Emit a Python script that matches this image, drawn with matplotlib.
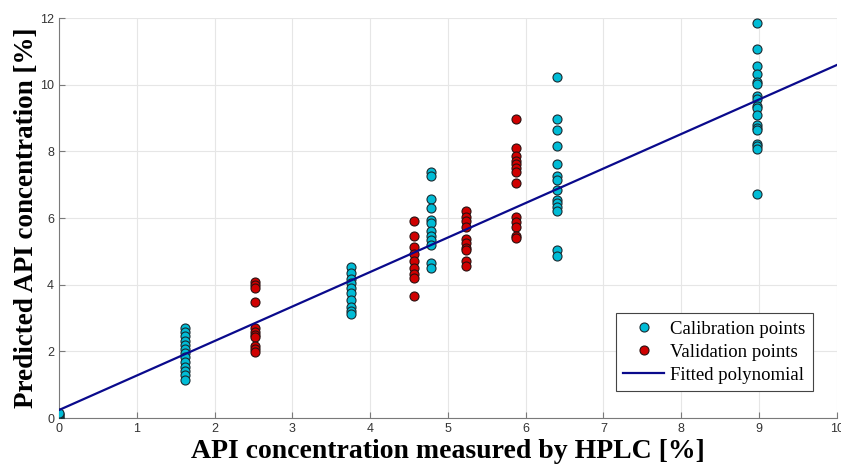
import numpy as np
import matplotlib.pyplot as plt

# calibration points (x = HPLC, y = predicted)
cal_x = [0.0] * 5 + [1.62] * 13 + [3.76] * 10 + [4.78] * 12 + [6.4] * 14 + [8.98] * 18
cal_y = [0.0, 0.04, 0.08, 0.12, 0.15,
         2.70, 2.58, 2.45, 2.30, 2.19, 2.07, 1.94, 1.82, 1.69, 1.54, 1.41, 1.29, 1.14,
         4.52, 4.34, 4.17, 4.04, 3.91, 3.74, 3.54, 3.32, 3.22, 3.11,
         7.38, 7.25, 6.58, 6.29, 5.95, 5.85, 5.60, 5.47, 5.35, 5.20, 4.65, 4.50,
         10.22, 8.97, 8.65, 8.17, 7.62, 7.25, 7.15, 6.83, 6.55, 6.45, 6.33, 6.20, 5.03, 4.86,
         11.85, 11.06, 10.56, 10.33, 10.08, 10.01, 9.65, 9.57, 9.37, 9.31, 9.08, 8.80, 8.70,
         8.63, 8.23, 8.15, 8.07, 6.72]

# validation points
val_x = [2.52] * 11 + [4.57] * 9 + [5.23] * 10 + [5.88] * 13
val_y = [4.09, 3.99, 3.89, 3.49, 2.69, 2.59, 2.49, 2.42, 2.16, 2.06, 1.99,
         5.92, 5.46, 5.14, 4.92, 4.71, 4.49, 4.32, 4.21, 3.67,
         6.22, 6.03, 5.92, 5.74, 5.37, 5.25, 5.10, 5.03, 4.70, 4.57,
         8.97, 8.10, 7.85, 7.70, 7.62, 7.50, 7.38, 7.05, 6.03, 5.89, 5.74, 5.47, 5.40]

# fitted line
fit_slope = 1.035
fit_intercept = 0.24

fig = plt.figure(figsize=(8.41, 4.70), dpi=100)
ax = fig.add_axes([0.0702, 0.1106, 0.9248, 0.8511])

xf = np.array([0, 10])
ax.plot(cal_x, cal_y, 'o', color='#00BCD6', markeredgecolor='#1a2a30',
        markeredgewidth=0.8, markersize=6.5, label='Calibration points', zorder=3)
ax.plot(val_x, val_y, 'o', color='#D00000', markeredgecolor='#2a1010',
        markeredgewidth=0.8, markersize=6.5, label='Validation points', zorder=3)
ax.plot(xf, fit_slope * xf + fit_intercept, color='#0a0a8c', linewidth=1.6,
        label='Fitted polynomial', zorder=4)

ax.set_xlim(0, 10)
ax.set_ylim(0, 12)
ax.set_xticks(range(0, 11))
ax.set_yticks(range(0, 13, 2))
ax.grid(color='#e6e6e6', linewidth=0.8)
ax.set_axisbelow(True)
for s in ['top', 'right']:
    ax.spines[s].set_visible(False)
for s in ['left', 'bottom']:
    ax.spines[s].set_color('#7a7a7a')
ax.tick_params(direction='in', length=4, colors='#7a7a7a', labelcolor='#333333',
               labelsize=9, labelfontfamily='Liberation Sans')

ax.set_xlabel('API concentration measured by HPLC [%]', family='Liberation Serif',
              fontweight='bold', fontsize=20, labelpad=3)
ax.set_ylabel('Predicted API concentration [%]', family='Liberation Serif',
              fontweight='bold', fontsize=19.5, labelpad=1)

leg = ax.legend(loc='lower right', bbox_to_anchor=(0.969, 0.0675), borderaxespad=0,
                prop={'family': 'Liberation Serif', 'size': 13.5},
                fancybox=False, edgecolor='#444444', framealpha=1,
                handlelength=2.2, handletextpad=0.3, borderpad=0.4, labelspacing=0.3)
leg.get_frame().set_linewidth(0.8)

fig.savefig('out.png', dpi=100)
